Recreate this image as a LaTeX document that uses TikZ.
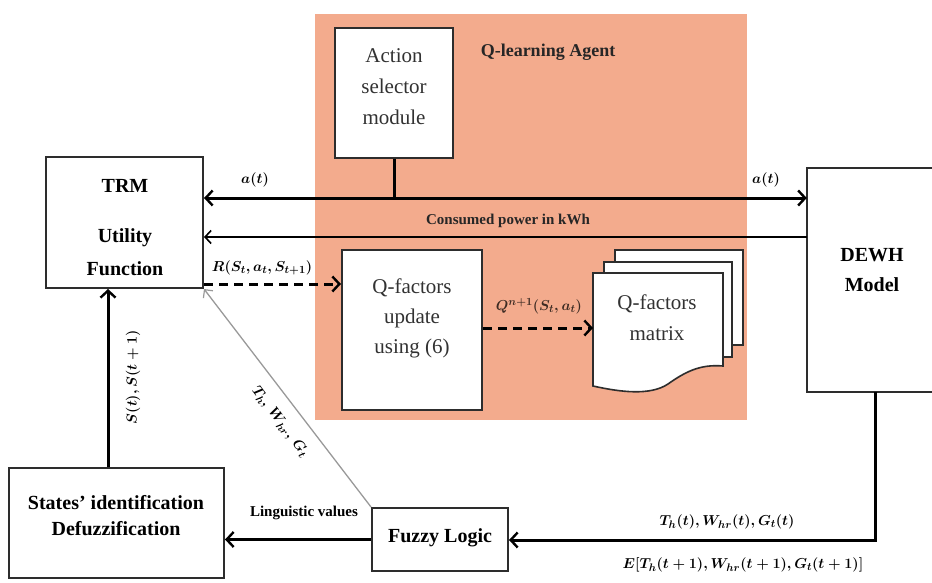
\documentclass[tikz,border=0pt]{standalone}
\usepackage{fontspec}
\setmainfont{Liberation Serif}
\usetikzlibrary{arrows.meta}
\definecolor{agentfill}{RGB}{243,171,141}
\definecolor{edgegray}{RGB}{45,45,45}
\definecolor{textgray}{RGB}{50,50,50}

\begin{document}
\begin{tikzpicture}[x=1pt,y=-1pt,
  box/.style={draw=edgegray, line width=2pt, fill=white, inner sep=0pt},
  boldtxt/.style={align=center, inner sep=0pt, font=\fontsize{20}{33}\selectfont\bfseries},
  plaintxt/.style={align=center, inner sep=0pt, text=textgray, font=\fontsize{21}{31}\selectfont},
  lbl/.style={font=\fontsize{15}{18}\selectfont\bfseries\boldmath, inner sep=1pt},
  barb/.style={-{Straight Barb[length=7pt,width=15pt,line width=2.4pt]}},
  bigarrow/.style={line width=3pt, barb},
  dblarrow/.style={line width=3pt, {Straight Barb[length=7pt,width=15pt,line width=2.4pt]}-{Straight Barb[length=7pt,width=15pt,line width=2.4pt]}},
  thinarrow/.style={line width=2pt, -{Straight Barb[length=6pt,width=13pt,line width=1.6pt]}},
  dasharrow/.style={line width=3pt, dash pattern=on 9pt off 6pt, barb},
  grayarrow/.style={draw=gray!80, line width=1.3pt, -{Straight Barb[length=6pt,width=12pt,line width=1.2pt]}},
  sheet/.style={draw=edgegray, line width=1.6pt, fill=white}
]
\useasboundingbox (0,0) rectangle (932,583);

% Q-learning agent region
\node[fill=agentfill, minimum width=432pt, minimum height=406pt, inner sep=0pt] (agent) at (531,217) {};
\node[font=\fontsize{18}{21}\selectfont\bfseries, text=black!85] (agentlbl) at (548,52) {Q-learning Agent};

% block frames
\node[box, minimum width=118pt, minimum height=130pt] (act) at (394,93) {};
\node[box, minimum width=157pt, minimum height=131pt] (trm) at (124.5,222.5) {};
\node[draw=none, inner sep=0pt, minimum width=125pt, minimum height=224pt] (dewh) at (869.5,280) {};
\draw[draw=edgegray, line width=2pt] (dewh.north east) -- (dewh.north west) -- (dewh.south west) -- (dewh.south east);
\node[box, minimum width=140pt, minimum height=160pt] (qup) at (412,330) {};
\node[box, minimum width=215pt, minimum height=110pt] (states) at (116.5,523) {};
\node[box, minimum width=136pt, minimum height=63pt] (fuzzy) at (440,539.5) {};

% block texts
\node[plaintxt] (acttxt) at (394,87) {Action\\selector\\module};
\node[boldtxt] (trmtxt) at (125,186) {TRM};
\node[boldtxt] (utiltxt) at (125,252) {Utility\\Function};
\node[boldtxt, font=\fontsize{20}{30}\selectfont\bfseries] (dewhtxt) at (872,270) {DEWH\\Model};
\node[plaintxt, font=\fontsize{21}{30}\selectfont] (quptxt) at (412,318) {Q-factors\\update\\using (6)};
\node[boldtxt, font=\fontsize{20}{26}\selectfont\bfseries] (statestxt) at (116,516) {States' identification\\Defuzzification};
\node[boldtxt] (fuzzytxt) at (440,538) {Fuzzy Logic};

% stacked sheets of the Q-factors matrix
\draw[sheet] (615,250) rectangle (743,345);
\draw[sheet] (604,262) rectangle (732,357);
\draw[sheet] (593,273) -- (723,273) -- (723,366)
  .. controls (700,364) and (685,372) .. (668,384)
  .. controls (650,396) and (620,392) .. (593,386) -- cycle;
\node[plaintxt] (qmat) at (657,318) {Q-factors\\matrix};
\coordinate (matin) at (593,328);

% helper levels
\coordinate (abus) at (0,198);
\coordinate (pw) at (0,237);
\coordinate (rr) at (0,284);
\coordinate (qq) at (0,328);
\coordinate (sv) at (108,0);
\coordinate (fv) at (875,540);

% connectors
\draw[line width=3pt] (act.south) -- (act.south |- abus);
\draw[dblarrow] (trm.east |- abus) -- (dewh.west |- abus);
\draw[thinarrow] (dewh.west |- pw) -- (trm.east |- pw);
\draw[dasharrow] (trm.east |- rr) -- (qup.west |- rr);
\draw[dasharrow] (qup.east |- qq) -- (matin);
\draw[grayarrow] (fuzzy.north west) -- (trm.south east);
\draw[bigarrow] (states.north -| sv) -- (trm.south -| sv);
\draw[bigarrow] (dewh.south -| fv) -- (fv) -- (fuzzy.east |- fv);
\draw[bigarrow] (fuzzy.west) -- (states.east |- fuzzy.west);

% labels
\node[lbl] (la1) at (255,180) {$a(t)$};
\node[lbl] (la2) at (766,180) {$a(t)$};
\node[lbl, text=black!85] (lpw) at (508,221) {Consumed power in kWh};
\node[lbl] (lr) at (262,268) {$R(S_t, a_t, S_{t+1})$};
\node[lbl, text=black!75!agentfill] (lq) at (539,306) {$Q^{n+1}(S_t, a_t)$};
\node[lbl, rotate=90] (ls) at (133,377) {$S(t), S(t+1)$};
\node[lbl, rotate=-53] (lt) at (280,422) {$T_h,\, W_{hr},\, G_t$};
\node[lbl] (lling) at (304,513) {Linguistic values};
\node[lbl] (lth) at (727,522) {$T_h(t), W_{hr}(t), G_t(t)$};
\node[lbl] (le) at (743,565) {$E[T_h(t+1), W_{hr}(t+1), G_t(t+1)]$};
\end{tikzpicture}
\end{document}
